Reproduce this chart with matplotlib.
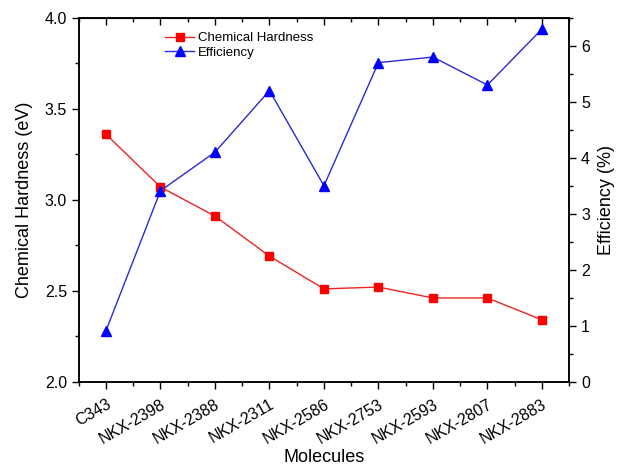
import numpy as np
import matplotlib
matplotlib.use("Agg")
import matplotlib.pyplot as plt
from matplotlib.ticker import MultipleLocator

plt.rcParams['font.family'] = ['Liberation Sans', 'DejaVu Sans']

# --- data ---
molecules = ["C343", "NKX-2398", "NKX-2388", "NKX-2311", "NKX-2586",
             "NKX-2753", "NKX-2593", "NKX-2807", "NKX-2883"]
hardness = [3.36, 3.07, 2.91, 2.69, 2.51, 2.52, 2.46, 2.46, 2.34]
efficiency = [0.91, 3.41, 4.1, 5.2, 3.5, 5.7, 5.8, 5.3, 6.3]

x = np.arange(len(molecules))

fig = plt.figure(figsize=(6.2, 4.7), dpi=100)
ax = fig.add_axes([0.127, 0.188, 0.791, 0.774])
ax2 = ax.twinx()

l1, = ax.plot(x, hardness, color="#ee2222", marker="s", markersize=6,
              markerfacecolor="#ff0000", markeredgecolor="#ff0000",
              linewidth=1.0, label="Chemical Hardness")
l2, = ax2.plot(x, efficiency, color="#2a2ad8", marker="^", markersize=7.5,
               markerfacecolor="#0000ff", markeredgecolor="#0000ff",
               linewidth=1.0, label="Efficiency")

ax.set_xlim(-0.5, 8.5)
ax.set_ylim(2.0, 4.0)
ax2.set_ylim(0, 6.5)

ax.set_xticks(x)
ax.set_xticklabels(molecules, rotation=30, ha="right", rotation_mode="anchor",
                   fontsize=12)
ax.xaxis.set_minor_locator(MultipleLocator(0.5))
ax.yaxis.set_major_locator(MultipleLocator(0.5))
ax.yaxis.set_minor_locator(MultipleLocator(0.25))
ax.yaxis.set_major_formatter(matplotlib.ticker.FormatStrFormatter("%.1f"))
ax2.yaxis.set_major_locator(MultipleLocator(1))
ax2.yaxis.set_minor_locator(MultipleLocator(0.5))

ax.tick_params(axis="both", which="major", direction="out", length=5,
               width=1.0, labelsize=11.5)
ax.tick_params(axis="x", which="major", pad=6)
ax.tick_params(axis="both", which="minor", direction="out", length=3, width=1.0)
ax2.tick_params(axis="y", which="major", direction="out", length=5,
                width=1.0, labelsize=11.5)
ax2.tick_params(axis="y", which="minor", direction="out", length=3, width=1.0)

# mirrored top ticks pointing inward
top = ax.secondary_xaxis("top")
top.set_xticks(x)
top.xaxis.set_minor_locator(MultipleLocator(0.5))
top.tick_params(which="major", direction="in", length=5, width=1.0,
                labeltop=False)
top.tick_params(which="minor", direction="in", length=3, width=1.0)

for a in (ax, ax2):
    for s in a.spines.values():
        s.set_linewidth(1.1)

ax.set_xlabel("Molecules", fontsize=13, labelpad=2)
ax.set_ylabel("Chemical Hardness (eV)", fontsize=13, labelpad=8)
ax2.set_ylabel("Efficiency (%)", fontsize=13, labelpad=6)

ax.legend(handles=[l1, l2], loc="upper left", bbox_to_anchor=(0.155, 0.99),
          frameon=False, fontsize=9.5, handlelength=2.2, handletextpad=0.3,
          labelspacing=0.15, borderpad=0.3)

fig.savefig("out.png", dpi=100)
